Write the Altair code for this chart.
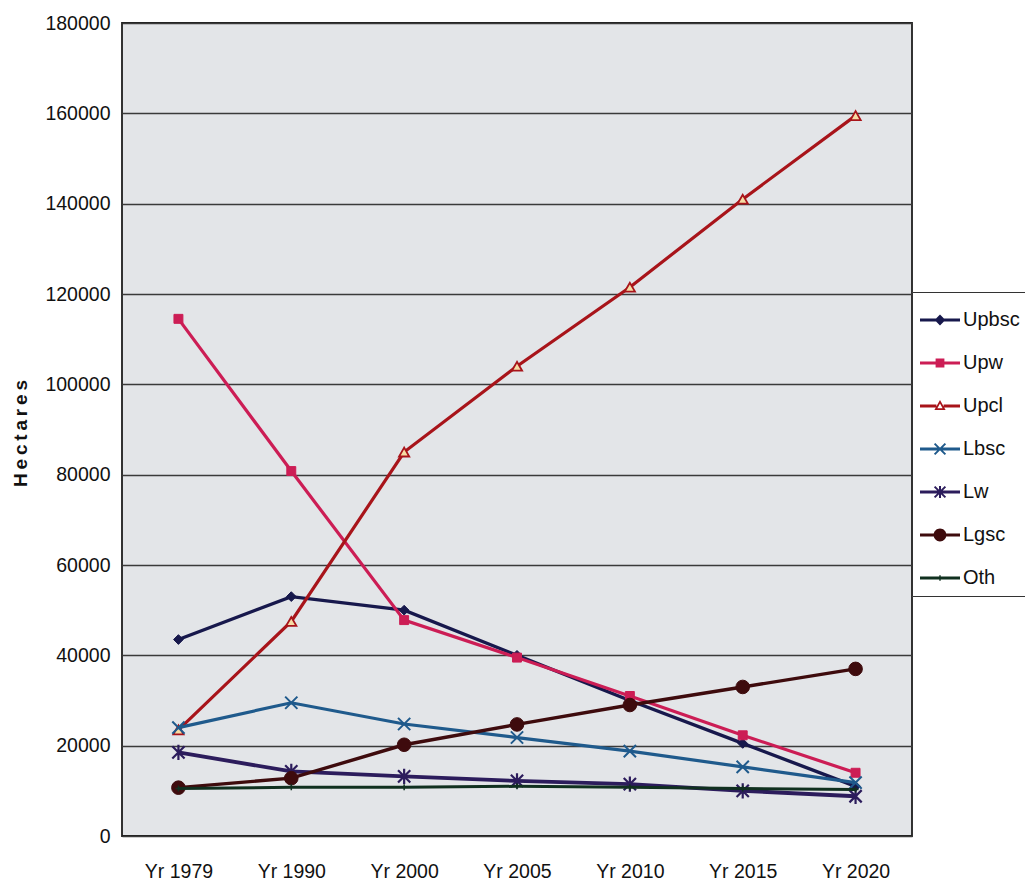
import math
import altair as alt
import pandas as pd

# ---- data (hectares by land-use class) ----
years = ["Yr 1979", "Yr 1990", "Yr 2000", "Yr 2005", "Yr 2010", "Yr 2015", "Yr 2020"]
series = ["Upbsc", "Upw", "Upcl", "Lbsc", "Lw", "Lgsc", "Oth"]

upbsc = [43500, 53000, 50000, 40000, 30000, 20500, 11000]
upw = [114500, 80800, 47800, 39500, 31000, 22300, 14000]
upcl = [23500, 47500, 85000, 104000, 121500, 141000, 159500]
lbsc = [24000, 29500, 24800, 21800, 18800, 15300, 11800]
lw = [18500, 14300, 13200, 12200, 11500, 10000, 8800]
lgsc = [10700, 12800, 20200, 24700, 29000, 33000, 37000]
oth = [10500, 10800, 10800, 11000, 10800, 10500, 10300]

values = [upbsc, upw, upcl, lbsc, lw, lgsc, oth]
df = pd.DataFrame(
    [{"year": y, "series": s, "value": v}
     for s, vals in zip(series, values) for y, v in zip(years, vals)]
)

# ---- styling ----
line_colors = ["#17184c", "#cc1d55", "#a8141a", "#1f5a8c", "#2c1c5c", "#3e0b0d", "#10301f"]
line_widths = [3.4, 3.2, 3.2, 3.2, 3.8, 3.4, 3.0]

FONT = "'Liberation Sans', Arial, sans-serif"


def _fmt(v):
    s = f"{v:.3f}"
    return "0" if s in ("0.000", "-0.000") else s


def _area(pts):
    return sum(pts[i][0] * pts[(i + 1) % len(pts)][1] - pts[(i + 1) % len(pts)][0] * pts[i][1]
               for i in range(len(pts)))


def poly(pts):
    """Closed polygon path, always wound clockwise on screen so shapes union."""
    if _area(pts) < 0:
        pts = pts[::-1]
    return "M" + "L".join(f"{_fmt(x)},{_fmt(y)}" for x, y in pts) + "Z"


def hole(pts):
    """Counter-clockwise polygon, used to punch a hole inside a filled shape."""
    if _area(pts) > 0:
        pts = pts[::-1]
    return "M" + "L".join(f"{_fmt(x)},{_fmt(y)}" for x, y in pts) + "Z"


def bar(x1, y1, x2, y2, w):
    dx, dy = x2 - x1, y2 - y1
    n = math.hypot(dx, dy)
    nx, ny = -dy / n * w, dx / n * w
    return poly([(x1 + nx, y1 + ny), (x2 + nx, y2 + ny), (x2 - nx, y2 - ny), (x1 - nx, y1 - ny)])


def circle(r):
    return f"M{_fmt(r)},0A{_fmt(r)},{_fmt(r)} 0 1,1 {_fmt(-r)},0A{_fmt(r)},{_fmt(r)} 0 1,1 {_fmt(r)},0Z"


# legend keys: a short line segment with the series marker in the middle
T = 0.075
seg = bar(-1, 0, 1, 0, T)
xcross = bar(-0.27, -0.27, 0.27, 0.27, 0.05) + bar(-0.27, 0.27, 0.27, -0.27, 0.05)

legend_shapes = [
    seg + poly([(0, -0.27), (0.27, 0), (0, 0.27), (-0.27, 0)]),
    seg + poly([(-0.22, -0.22), (0.22, -0.22), (0.22, 0.22), (-0.22, 0.22)]),
    bar(-1, 0, -0.18, 0, T) + bar(0.18, 0, 1, 0, T)
    + poly([(0, -0.3), (0.28, 0.2), (-0.28, 0.2)])
    + hole([(0, -0.13), (0.13, 0.11), (-0.13, 0.11)]),
    seg + xcross,
    seg + xcross + bar(0, -0.3, 0, 0.3, 0.05),
    seg + circle(0.32),
    seg + bar(0, -0.14, 0, 0.14, 0.035),
]

# markers drawn on the lines
X_PATH = "M-1,-1L1,1M-1,1L1,-1"
STAR_PATH = "M-1,-1L1,1M-1,1L1,-1M0,-1.25L0,1.25"
PLUS_PATH = "M-1,0L1,0M0,-1L0,1"
markers = [
    dict(shape="diamond", size=95, filled=True, fill=line_colors[0], stroke=line_colors[0], strokeWidth=1),
    dict(shape="square", size=80, filled=True, fill=line_colors[1], stroke=line_colors[1], strokeWidth=1),
    dict(shape="triangle-up", size=105, filled=False, fill="#f6dca4", stroke=line_colors[2], strokeWidth=1.8),
    dict(shape=X_PATH, size=150, filled=False, stroke=line_colors[3], strokeWidth=2.0),
    dict(shape=STAR_PATH, size=150, filled=False, stroke=line_colors[4], strokeWidth=2.2),
    dict(shape="circle", size=185, filled=True, fill=line_colors[5], stroke=line_colors[5], strokeWidth=1),
    dict(shape=PLUS_PATH, size=36, filled=False, stroke=line_colors[6], strokeWidth=1.5),
]

x_enc = alt.X("year:N", sort=years, scale=alt.Scale(type="point", padding=0.5, domain=years),
              axis=alt.Axis(title=None, labelAngle=0, ticks=False, domain=False,
                            labelFont=FONT, labelFontSize=19.5, labelColor="#111",
                            labelPadding=26))
y_enc = alt.Y("value:Q", scale=alt.Scale(domain=[0, 180000], nice=False, zero=True),
              axis=alt.Axis(values=list(range(0, 180001, 20000)), format="d",
                            title="H\u2009e\u2009c\u2009t\u2009a\u2009r\u2009e\u2009s",
                            titleFont=FONT, titleFontSize=19, titleFontWeight="bold",
                            titleColor="#111", titleAngle=-90, titleX=-102, titleY=410,
                            titleAlign="center", titleBaseline="middle",
                            labelFont=FONT, labelFontSize=19.5, labelColor="#111",
                            labelPadding=12, ticks=False, domain=False,
                            grid=True, gridColor="#3a3a3a", gridWidth=1.4))

base = alt.Chart(df)
layers = []
for i, name in enumerate(series):
    sub = base.transform_filter(alt.datum.series == name)
    layers.append(
        sub.mark_line(color=line_colors[i], strokeWidth=line_widths[i]).encode(x=x_enc, y=y_enc)
    )
    layers.append(
        sub.mark_point(opacity=1, **markers[i]).encode(x=x_enc, y=y_enc)
    )

legend = alt.Legend(
    title=None, orient="none", legendX=790, legendY=269,
    symbolSize=1600, symbolStrokeWidth=0,
    labelFont=FONT, labelFontSize=20, labelColor="#111", labelOffset=3,
    rowPadding=13, padding=8, strokeColor="#333", fillColor="white",
)
legend_layer = base.transform_filter(alt.datum.value < 0).mark_point(filled=True, opacity=1).encode(
    x=x_enc, y=y_enc,
    color=alt.Color("series:N", scale=alt.Scale(domain=series, range=line_colors), legend=legend),
    shape=alt.Shape("series:N", scale=alt.Scale(domain=series, range=legend_shapes), legend=legend),
)
layers.append(legend_layer)

chart = alt.layer(*layers).properties(
    width=790, height=813,
    autosize=alt.AutoSizeParams(type="none"),
    padding={"left": 122, "top": 23, "right": 113, "bottom": 49},
    background="white",
).configure_view(
    fill="#e3e5e8", stroke="#1e1e1e", strokeWidth=1.8,
)

chart.save("out.html", embed_options={"renderer": "svg", "actions": False})
